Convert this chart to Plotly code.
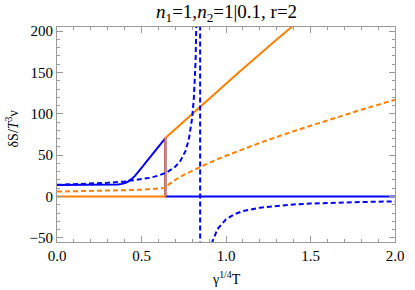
import plotly.graph_objects as go

# ---- data ----
blue_solid_x = [0.0, 0.1, 0.2, 0.3, 0.33, 0.36, 0.38, 0.4, 0.41, 0.42, 0.43, 0.44, 0.45, 0.46, 0.47, 0.48, 0.49, 0.5,
                0.52, 0.54, 0.56, 0.58, 0.6, 0.62, 0.6415, 0.6415, 1.0, 1.5, 2.0]
blue_solid_y = [14.0, 14.0, 14.0, 14.1, 14.3, 14.6, 15.1, 16.1, 17.0, 18.1, 19.4, 20.9, 22.7, 24.7, 26.9, 29.3, 31.9, 34.5,
                39.8, 44.8, 49.6, 54.4, 59.4, 64.8, 70.7, 0.0, 0.0, 0.0, 0.0]

orange_solid_x = [0.0, 0.3, 0.6415, 0.6415, 0.7, 0.8, 0.9, 1.0, 1.1, 1.2, 1.3, 1.4, 1.5, 1.6, 1.8, 2.0]
orange_solid_y = [0.0, 0.0, 0.0, 70.7, 81.5, 100.5, 118.5, 136.5, 154.5, 172.5, 190.0, 207.0, 224.0, 241.0, 275.0, 309.0]

blue_dash_x = [0.0, 0.1, 0.2, 0.3, 0.4, 0.5, 0.55, 0.6, 0.65, 0.7, 0.73, 0.76, 0.78, 0.8, 0.81, 0.82, 0.83,
               0.8465, 0.8475,
               0.86, 0.88, 0.9, 0.92, 0.95, 1.0, 1.05, 1.1, 1.2, 1.3, 1.4, 1.5, 1.6, 1.7, 1.8, 1.9, 2.0]
blue_dash_y = [14.1, 14.7, 15.5, 16.6, 18.2, 20.7, 22.6, 25.3, 29.3, 36.1, 43.1, 54.9, 68.9, 95.3, 119.8, 164.0, 267.0,
               2000.0, -2000.0,
               -260.0, -112.9, -72.8, -54.1, -39.4, -27.5, -21.4, -17.7, -13.5, -11.1, -9.6, -8.5, -7.7, -7.1, -6.6, -6.3, -5.9]

orange_dash_x = [0.0, 0.1, 0.2, 0.3, 0.4, 0.5, 0.55, 0.6, 0.64, 0.66, 0.7, 0.75, 0.8, 0.9, 1.0, 1.2, 1.4, 1.6, 1.8, 2.0]
orange_dash_y = [6.0, 6.2, 6.5, 7.0, 7.6, 8.3, 8.8, 9.4, 10.2, 14.4, 20.2, 26.1, 31.3, 40.7, 49.3, 64.8, 79.0, 92.3, 104.9, 117.0]

x_ticks = [0.0, 0.5, 1.0, 1.5, 2.0]
y_ticks = [-50, 0, 50, 100, 150, 200]

BLUE = "rgb(0,0,255)"
ORANGE = "rgb(255,128,0)"
FONT = "Liberation Serif, DejaVu Serif, serif"
FRAME = "#9a9a9a"

fig = go.Figure()
fig.add_trace(go.Scatter(x=blue_solid_x, y=blue_solid_y, mode="lines",
                         line=dict(color=BLUE, width=2)))
fig.add_trace(go.Scatter(x=orange_solid_x, y=orange_solid_y, mode="lines",
                         line=dict(color=ORANGE, width=2)))
fig.add_trace(go.Scatter(x=blue_dash_x, y=blue_dash_y, mode="lines",
                         line=dict(color=BLUE, width=2, dash="5px,3px")))
fig.add_trace(go.Scatter(x=orange_dash_x, y=orange_dash_y, mode="lines",
                         line=dict(color=ORANGE, width=2, dash="5px,3px")))

axis_common = dict(showgrid=False, zeroline=False, showline=True, linecolor=FRAME, linewidth=1,
                   mirror="ticks", ticks="inside", ticklen=6, tickcolor=FRAME, tickwidth=1,
                   tickfont=dict(family=FONT, size=15, color="black"))

fig.update_xaxes(range=[0, 2], tickvals=x_ticks, tickformat=".1f",
                 minor=dict(dtick=0.1, ticks="inside", ticklen=3, tickcolor=FRAME), **axis_common)
fig.update_yaxes(range=[-55, 205], tickvals=y_ticks,
                 minor=dict(dtick=10, ticks="inside", ticklen=3, tickcolor=FRAME), **axis_common)

fig.update_layout(
    width=415, height=290,
    margin=dict(l=57, r=11, t=27, b=48),
    plot_bgcolor="white", paper_bgcolor="white",
    showlegend=False,
    annotations=[
        dict(text="<i>n</i><sub>1</sub>=1,<i>n</i><sub>2</sub>=1|0.1, r=2", xref="paper", yref="paper",
             x=0.5, y=1.0, yshift=14, showarrow=False, xanchor="center", yanchor="middle",
             font=dict(family=FONT, size=19, color="black")),
        dict(text="δS/<i>T</i><sup>3</sup>ν", xref="paper", yref="paper",
             x=0, xshift=-45, y=0.5, yshift=5, showarrow=False, textangle=-90,
             xanchor="center", yanchor="middle",
             font=dict(family=FONT, size=14, color="black")),
        dict(text="γ<sup>1/4</sup>T", xref="paper", yref="paper",
             x=0.5, y=0, yshift=-36, showarrow=False, xanchor="center", yanchor="middle",
             font=dict(family=FONT, size=14, color="black")),
    ],
)

fig.write_html("out.html", config={"displayModeBar": False},
               post_script="document.body.style.margin='0';")
